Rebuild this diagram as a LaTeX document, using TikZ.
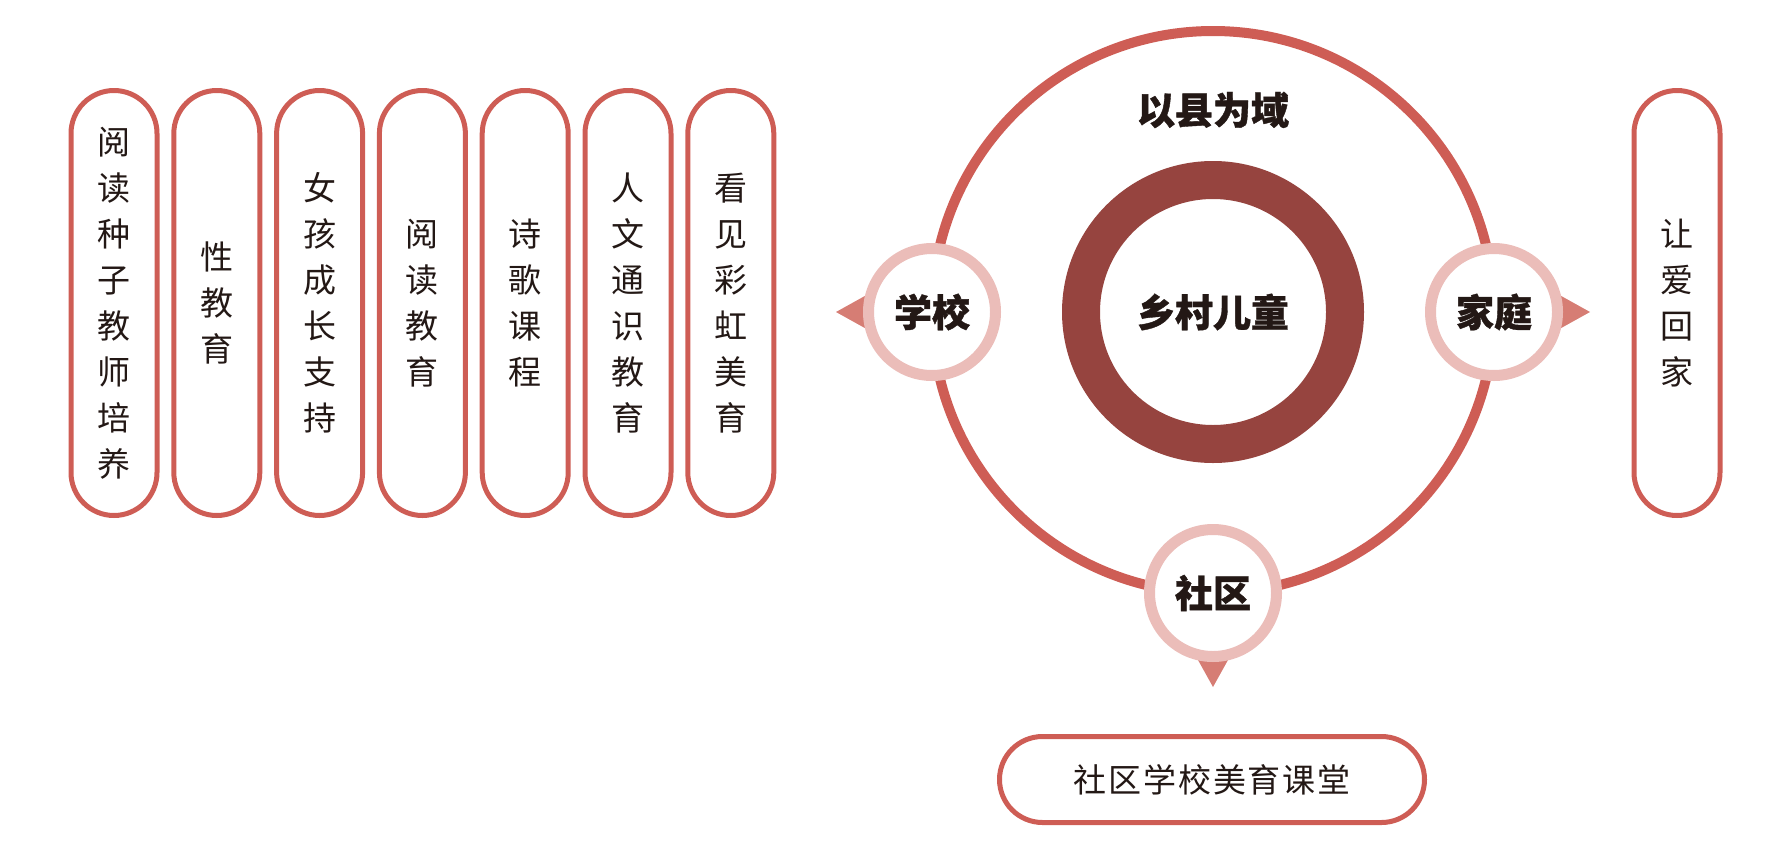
\documentclass[tikz,border=0pt]{standalone}
\usepackage{fontspec}
\setmainfont{Noto Sans CJK SC}
\usetikzlibrary{backgrounds}
\definecolor{pillred}{HTML}{CE5D55}
\definecolor{ringdark}{HTML}{96443F}
\definecolor{ringpink}{HTML}{EBBDB9}
\definecolor{pointred}{HTML}{D67D74}
\definecolor{ink}{HTML}{231815}
\tikzset{
  pill/.style={draw=pillred, line width=5pt, rounded corners=43pt, minimum width=86pt,
    minimum height=425pt, inner sep=0pt, align=center, text=ink,
    font=\fontsize{33}{46}\selectfont},
  widepill/.style={pill, minimum width=425pt, minimum height=86pt,
    font=\fontsize{33}{46}\selectfont\addfontfeature{LetterSpace=6}},
  heavy/.style={text=ink, font=\fontsize{38}{42}\selectfont\bfseries\addfontfeature{FakeBold=1}},
  spot/.style={circle, draw=ringpink, line width=11pt, fill=white, minimum size=127pt,
    inner sep=0pt, heavy},
  pointer/.style={fill=pointred},
}
\begin{document}
\begin{tikzpicture}[x=1pt,y=-1pt]
    \useasboundingbox (0,0) rectangle (1792,852);
    % left column
    \node[pill] (seed)    at (114,303) {阅\\读\\种\\子\\教\\师\\培\\养};
    \node[pill] (sex)     at (216.8,303) {性\\教\\育};
    \node[pill] (girls)   at (319.6,303) {女\\孩\\成\\长\\支\\持};
    \node[pill] (reading) at (422.4,303) {阅\\读\\教\\育};
    \node[pill] (poetry)  at (525.2,303) {诗\\歌\\课\\程};
    \node[pill] (liberal) at (628,303) {人\\文\\通\\识\\教\\育};
    \node[pill] (rainbow) at (730.8,303) {看\\见\\彩\\虹\\美\\育};
    % rings
    \node[circle, draw=pillred, line width=10pt, minimum size=562pt, inner sep=0pt, outer sep=0pt] (county) at (1213,312) {};
    \node[heavy] (countytitle) at (1213,110) {以县为域};
    \node[circle, draw=ringdark, line width=38pt, minimum size=264pt, inner sep=0pt, heavy] (child) at (county) {乡村儿童};
    \node[spot] (school) at (county.west) {学校};
    \node[spot] (family) at (county.east) {家庭};
    \node[spot] (community) at (county.south) {社区};
    \begin{scope}[on background layer]
      \fill[pointer] (school.center) ++(-96,0) -- ++(36,-20) -- ++(0,40) -- cycle;
      \fill[pointer] (family.center) ++(96,0) -- ++(-36,-20) -- ++(0,40) -- cycle;
      \fill[pointer] (community.center) ++(0,94) -- ++(-20,-36) -- ++(40,0) -- cycle;
    \end{scope}
    % outcomes
    \node[pill] (home) at (1677,303) {让\\爱\\回\\家};
    \node[widepill] (aesthetic) at (1212,779.5) {社区学校美育课堂};
\end{tikzpicture}
\end{document}
